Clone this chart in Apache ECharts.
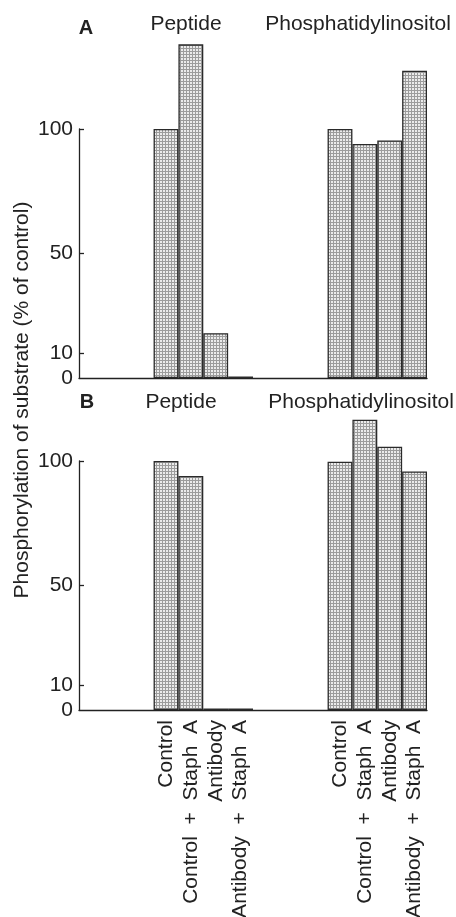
<!DOCTYPE html>
<html>
<head>
<meta charset="utf-8">
<script src="https://cdn.jsdelivr.net/npm/echarts@6/dist/echarts.min.js"></script>
<style>
html,body{margin:0;padding:0;background:#fff;}
#chart{width:456px;height:917px;}
</style>
</head>
<body>
<div id="chart"></div>
<script>
// ---- data ----
const categories = ['', '', '', 'Control', 'Control  +  Staph  A', 'Antibody', 'Antibody  +  Staph  A', '', '', '', 'Control', 'Control  +  Staph  A', 'Antibody', 'Antibody  +  Staph  A'];
const panelAValues = ['-', '-', '-', 100, 134, 18, 0.6, '-', '-', '-', 100, 94, 95.4, 123.4];
const panelBValues = ['-', '-', '-', 100, 94, 0.6, 0.6, '-', '-', '-', 99.7, 116.6, 105.7, 95.8];
const yTicks = [0, 10, 50, 100];
const panelLetters = ['A', 'B'];
const groupTitles = ['Peptide', 'Phosphatidylinositol'];
const yTitle = 'Phosphorylation of substrate (% of control)';

const FONT = '"Liberation Sans", Arial, Helvetica, sans-serif';
const INK = '#222';

// stipple pattern
const pat = document.createElement('canvas');
pat.width = 3; pat.height = 3;
const pc = pat.getContext('2d');
pc.fillStyle = '#ebebeb'; pc.fillRect(0, 0, 3, 3);
pc.fillStyle = '#9c9c9c'; pc.fillRect(0, 0, 3, 1); pc.fillRect(0, 0, 1, 3);

const chart = echarts.init(document.getElementById('chart'), null, {renderer: 'canvas'});

function xAxis(idx, showLabels) {
  return {
    type: 'category', gridIndex: idx, data: categories,
    boundaryGap: true,
    axisLine: {show: true, lineStyle: {color: INK, width: 1.3}},
    axisTick: {show: false},
    axisLabel: {
      show: showLabels, interval: 0, rotate: 90, margin: 10,
      fontFamily: FONT, fontSize: 21, color: INK
    },
    splitLine: {show: false}
  };
}
function yAxis(idx) {
  return {
    type: 'value', gridIndex: idx, min: 0, max: 100,
    axisLine: {show: true, lineStyle: {color: INK, width: 1.3}},
    axisTick: {show: true, inside: true, length: 5, customValues: yTicks.filter(v => v > 0), lineStyle: {color: INK, width: 1.3}},
    axisLabel: {show: true, customValues: yTicks, margin: 6, fontFamily: FONT, fontSize: 21, color: INK},
    splitLine: {show: false}
  };
}
function barSeries(idx, values) {
  return {
    type: 'bar', xAxisIndex: idx, yAxisIndex: idx, data: values,
    barWidth: '100%', barGap: '0%', clip: false,
    itemStyle: {color: {image: pat, repeat: 'repeat'}, borderColor: '#2a2a2a', borderWidth: 1.3},
    emphasis: {disabled: true},
    animation: false
  };
}
function txt(x, y, text, opts) {
  return {
    type: 'text', x: x, y: y,
    style: Object.assign({text: text, font: '21px ' + FONT, fill: INK, align: 'center', verticalAlign: 'middle'}, opts || {})
  };
}

chart.setOption({
  backgroundColor: '#fff',
  animation: false,
  grid: [
    {left: 79, top: 129, width: 348, height: 249, containLabel: false, outerBoundsMode: 'none'},
    {left: 79, top: 461, width: 348, height: 249, containLabel: false, outerBoundsMode: 'none'}
  ],
  xAxis: [xAxis(0, false), xAxis(1, true)],
  yAxis: [yAxis(0), yAxis(1)],
  series: [barSeries(0, panelAValues), barSeries(1, panelBValues)],
  graphic: [
    txt(86, 28, panelLetters[0], {font: 'bold 20px ' + FONT}),
    txt(186, 24, groupTitles[0]),
    txt(358, 24, groupTitles[1]),
    txt(87, 402, panelLetters[1], {font: 'bold 20px ' + FONT}),
    txt(181, 402, groupTitles[0]),
    txt(361, 402, groupTitles[1]),
    {type: 'text', x: 22, y: 400, rotation: Math.PI / 2,
     style: {text: yTitle, font: '21px ' + FONT, fill: INK, align: 'center', verticalAlign: 'middle'}}
  ]
});
</script>
</body>
</html>
